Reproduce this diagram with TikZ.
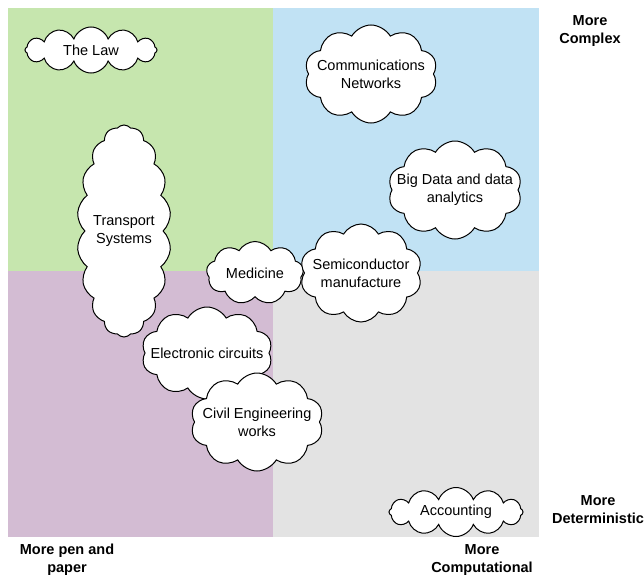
\documentclass[tikz,border=0pt]{standalone}
\usepackage{fontspec}
\setmainfont{Liberation Sans}
\usetikzlibrary{shapes.symbols}
\definecolor{quadgreen}{RGB}{198,230,174}
\definecolor{quadblue}{RGB}{193,226,244}
\definecolor{quadpurple}{RGB}{211,188,211}
\definecolor{quadgray}{RGB}{227,227,227}
\tikzset{
	puff/.style={cloud, cloud puffs=10, cloud puff arc=120, cloud ignores aspect, draw=black, line width=1pt, fill=white, inner sep=0pt},
	flatpuff/.style={puff, cloud puffs=12, cloud puff arc=140},
	axislabel/.style={font=\fontsize{14.5}{18}\selectfont\bfseries, align=center}
}

\begin{document}
\begin{tikzpicture}[x=1pt, y=-1pt, font=\fontsize{14.5}{18}\selectfont]
			%%%%% START %%%%%
			\useasboundingbox (0, 0) rectangle (644, 578);
			
			\draw[draw=none, fill=quadgreen] (8, 8) rectangle (273, 271);
			\draw[draw=none, fill=quadblue] (273, 8) rectangle (539, 271);
			\draw[draw=none, fill=quadpurple] (8, 271) rectangle (273, 537);
			\draw[draw=none, fill=quadgray] (273, 271) rectangle (539, 537);
			
			\node[flatpuff, minimum width=132pt, minimum height=46pt, label={[align=center]center:The Law}] (law) at (91, 50) {};
			\node[puff, minimum width=133pt, minimum height=98pt, label={[align=center]center:Communications\\Networks}] (comms) at (371, 74) {};
			\node[puff, minimum width=134pt, minimum height=98pt, label={[align=center]center:Big Data and data\\analytics}] (bigdata) at (455, 190) {};
			\node[puff, cloud puffs=18, cloud puff arc=100, minimum width=94pt, minimum height=212pt, label={[align=center]center:Transport\\Systems}] (transport) at (124, 231) {};
			\node[puff, cloud puffs=9, minimum width=97pt, minimum height=63pt, label={[align=center]center:Medicine}] (medicine) at (255, 273) {};
			\node[puff, minimum width=122pt, minimum height=98pt, label={[align=center]center:Semiconductor\\manufacture}] (semi) at (361, 273) {};
			\node[puff, minimum width=131pt, minimum height=92pt, label={[align=center]center:Electronic circuits}] (circuits) at (207, 353) {};
			\node[puff, minimum width=133pt, minimum height=98pt, label={[align=center]center:Civil Engineering\\works}] (civil) at (257, 422) {};
			\node[flatpuff, minimum width=134pt, minimum height=49pt, label={[align=center]center:Accounting}] (accounting) at (456, 512) {};
			
			\node[axislabel] (complex) at (590, 31) {More\\Complex};
			\node[axislabel] (deterministic) at (598, 510) {More\\Deterministic};
			\node[axislabel] (penpaper) at (67, 560) {More pen and\\paper};
			\node[axislabel] (computational) at (482, 560) {More\\Computational};
			
			%%%%% END %%%%%
\end{tikzpicture}
\end{document}
